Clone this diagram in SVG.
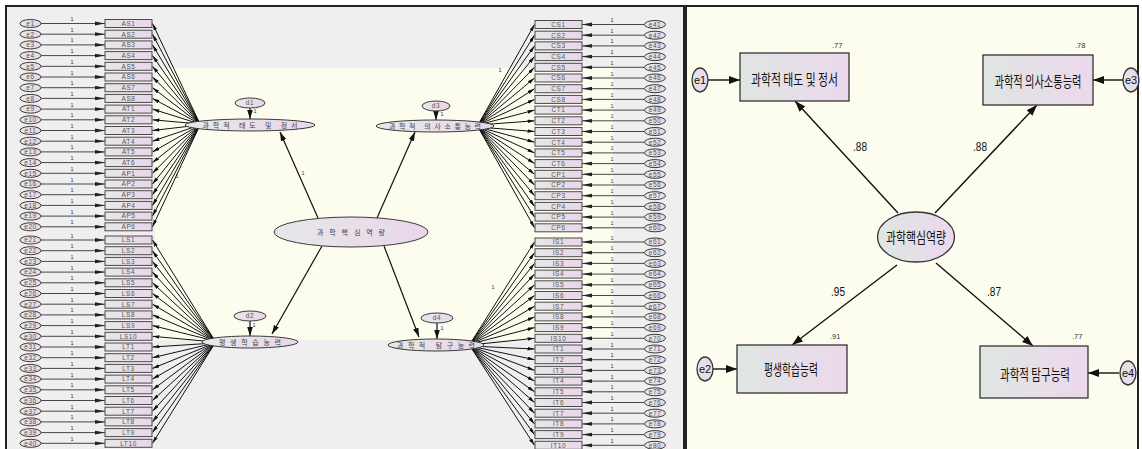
<svg xmlns="http://www.w3.org/2000/svg" xmlns:xlink="http://www.w3.org/1999/xlink" width="1142" height="449" viewBox="0 0 1142 449">
<style>
.b{stroke:#4a4a4a;stroke-width:1;fill:url(#gL)}
.e{stroke:#3a3a3a;stroke-width:1;fill:url(#gL)}
.t{font-family:"Liberation Sans",sans-serif;font-size:6.5px;fill:#555;text-anchor:middle;letter-spacing:0.6px}
.k{font-family:"Noto Sans CJK KR",sans-serif;font-size:7px;fill:#444;text-anchor:middle}
.one{font-family:"Liberation Sans",sans-serif;font-size:5.5px;fill:#333;text-anchor:middle}
.c1{stroke:#333;stroke-width:0.9;fill:none;marker-end:url(#m1)}
.c2{stroke:#111;stroke-width:1;fill:none;marker-end:url(#m2)}
.s{stroke:#111;stroke-width:1.2;fill:none;marker-end:url(#m3)}
.r{stroke:#111;stroke-width:1.4;fill:none;marker-end:url(#m4)}
.rb{stroke:#333;stroke-width:1.3;fill:url(#gR)}
.rk{font-family:"Noto Sans CJK KR",sans-serif;font-size:15px;fill:#111;text-anchor:middle}
.n{font-family:"Liberation Sans",sans-serif;font-size:12px;fill:#111}
.sn{font-family:"Liberation Sans",sans-serif;font-size:7.5px;fill:#333}
.re{font-family:"Liberation Sans",sans-serif;font-size:11px;fill:#111;text-anchor:middle}
</style>
<defs>
<linearGradient id="gL" x1="0" y1="0" x2="1" y2="0"><stop offset="0" stop-color="#e6e8e8"/><stop offset="1" stop-color="#ead6ea"/></linearGradient>
<linearGradient id="gR" x1="0" y1="0" x2="1" y2="0"><stop offset="0" stop-color="#dfe6e3"/><stop offset="1" stop-color="#ecd8ec"/></linearGradient>
<marker id="m1" markerUnits="userSpaceOnUse" markerWidth="11" markerHeight="5" refX="10" refY="2.2" orient="auto"><path d="M0,0.3L10,2.2L0,4.1z" fill="#222"/></marker>
<marker id="m2" markerUnits="userSpaceOnUse" markerWidth="8" markerHeight="4" refX="7" refY="1.8" orient="auto"><path d="M0,0L7,1.8L0,3.6z" fill="#111"/></marker>
<marker id="m3" markerUnits="userSpaceOnUse" markerWidth="10" markerHeight="6" refX="9" refY="2.8" orient="auto"><path d="M0,0L9,2.8L0,5.6z" fill="#111"/></marker>
<marker id="m4" markerUnits="userSpaceOnUse" markerWidth="12" markerHeight="9" refX="11" refY="4" orient="auto"><path d="M0,0L11,4L0,8z" fill="#111"/></marker>
<rect id="bx" class="b" x="-23.5" y="-4" width="47" height="8"/>
<ellipse id="el" class="e" rx="10.5" ry="4"/>
</defs>

<g id="panels">
<rect x="6" y="6" width="678" height="446" fill="#efefef" stroke="#222" stroke-width="2"/>
<rect x="155" y="68" width="458" height="272" fill="#fdfdef"/>
<rect x="686" y="6" width="452" height="446" fill="#fdfdef" stroke="#222" stroke-width="2"/>
</g>

<g id="connectors">
<path class="c1" d="M41,23.5H105"/><path class="c1" d="M41,34.2H105"/><path class="c1" d="M41,44.9H105"/><path class="c1" d="M41,55.6H105"/><path class="c1" d="M41,66.3H105"/>
<path class="c1" d="M41,77H105"/><path class="c1" d="M41,87.7H105"/><path class="c1" d="M41,98.4H105"/><path class="c1" d="M41,109.1H105"/><path class="c1" d="M41,119.8H105"/>
<path class="c1" d="M41,130.5H105"/><path class="c1" d="M41,141.2H105"/><path class="c1" d="M41,151.9H105"/><path class="c1" d="M41,162.6H105"/><path class="c1" d="M41,173.3H105"/>
<path class="c1" d="M41,184H105"/><path class="c1" d="M41,194.7H105"/><path class="c1" d="M41,205.4H105"/><path class="c1" d="M41,216.1H105"/><path class="c1" d="M41,226.8H105"/>
<path class="c1" d="M41,240H105"/><path class="c1" d="M41,250.7H105"/><path class="c1" d="M41,261.4H105"/><path class="c1" d="M41,272.1H105"/><path class="c1" d="M41,282.8H105"/>
<path class="c1" d="M41,293.5H105"/><path class="c1" d="M41,304.2H105"/><path class="c1" d="M41,314.9H105"/><path class="c1" d="M41,325.6H105"/><path class="c1" d="M41,336.3H105"/>
<path class="c1" d="M41,347H105"/><path class="c1" d="M41,357.7H105"/><path class="c1" d="M41,368.4H105"/><path class="c1" d="M41,379.1H105"/><path class="c1" d="M41,389.8H105"/>
<path class="c1" d="M41,400.5H105"/><path class="c1" d="M41,411.2H105"/><path class="c1" d="M41,421.9H105"/><path class="c1" d="M41,432.6H105"/><path class="c1" d="M41,443.3H105"/>
<path class="c1" d="M644,24.5H582"/><path class="c1" d="M644,35.2H582"/><path class="c1" d="M644,45.9H582"/><path class="c1" d="M644,56.6H582"/><path class="c1" d="M644,67.3H582"/>
<path class="c1" d="M644,78H582"/><path class="c1" d="M644,88.7H582"/><path class="c1" d="M644,99.4H582"/><path class="c1" d="M644,110.1H582"/><path class="c1" d="M644,120.8H582"/>
<path class="c1" d="M644,131.5H582"/><path class="c1" d="M644,142.2H582"/><path class="c1" d="M644,152.9H582"/><path class="c1" d="M644,163.6H582"/><path class="c1" d="M644,174.3H582"/>
<path class="c1" d="M644,185H582"/><path class="c1" d="M644,195.7H582"/><path class="c1" d="M644,206.4H582"/><path class="c1" d="M644,217.1H582"/><path class="c1" d="M644,227.8H582"/>
<path class="c1" d="M644,242H582"/><path class="c1" d="M644,252.7H582"/><path class="c1" d="M644,263.4H582"/><path class="c1" d="M644,274.1H582"/><path class="c1" d="M644,284.8H582"/>
<path class="c1" d="M644,295.5H582"/><path class="c1" d="M644,306.2H582"/><path class="c1" d="M644,316.9H582"/><path class="c1" d="M644,327.6H582"/><path class="c1" d="M644,338.3H582"/>
<path class="c1" d="M644,349H582"/><path class="c1" d="M644,359.7H582"/><path class="c1" d="M644,370.4H582"/><path class="c1" d="M644,381.1H582"/><path class="c1" d="M644,391.8H582"/>
<path class="c1" d="M644,402.5H582"/><path class="c1" d="M644,413.2H582"/><path class="c1" d="M644,423.9H582"/><path class="c1" d="M644,434.6H582"/><path class="c1" d="M644,445.3H582"/>
<g class="one">
<text x="72" y="21">1</text><text x="72" y="31.7">1</text><text x="72" y="42.4">1</text><text x="72" y="53.1">1</text><text x="72" y="63.8">1</text>
<text x="72" y="74.5">1</text><text x="72" y="85.2">1</text><text x="72" y="95.9">1</text><text x="72" y="106.6">1</text><text x="72" y="117.3">1</text>
<text x="72" y="128">1</text><text x="72" y="138.7">1</text><text x="72" y="149.4">1</text><text x="72" y="160.1">1</text><text x="72" y="170.8">1</text>
<text x="72" y="181.5">1</text><text x="72" y="192.2">1</text><text x="72" y="202.9">1</text><text x="72" y="213.6">1</text><text x="72" y="224.3">1</text>
<text x="72" y="237.5">1</text><text x="72" y="248.2">1</text><text x="72" y="258.9">1</text><text x="72" y="269.6">1</text><text x="72" y="280.3">1</text>
<text x="72" y="291">1</text><text x="72" y="301.7">1</text><text x="72" y="312.4">1</text><text x="72" y="323.1">1</text><text x="72" y="333.8">1</text>
<text x="72" y="344.5">1</text><text x="72" y="355.2">1</text><text x="72" y="365.9">1</text><text x="72" y="376.6">1</text><text x="72" y="387.3">1</text>
<text x="72" y="398">1</text><text x="72" y="408.7">1</text><text x="72" y="419.4">1</text><text x="72" y="430.1">1</text><text x="72" y="440.8">1</text>
<text x="612" y="22">1</text><text x="612" y="32.7">1</text><text x="612" y="43.4">1</text><text x="612" y="54.1">1</text><text x="612" y="64.8">1</text>
<text x="612" y="75.5">1</text><text x="612" y="86.2">1</text><text x="612" y="96.9">1</text><text x="612" y="107.6">1</text><text x="612" y="118.3">1</text>
<text x="612" y="129">1</text><text x="612" y="139.7">1</text><text x="612" y="150.4">1</text><text x="612" y="161.1">1</text><text x="612" y="171.8">1</text>
<text x="612" y="182.5">1</text><text x="612" y="193.2">1</text><text x="612" y="203.9">1</text><text x="612" y="214.6">1</text><text x="612" y="225.3">1</text>
<text x="612" y="239.5">1</text><text x="612" y="250.2">1</text><text x="612" y="260.9">1</text><text x="612" y="271.6">1</text><text x="612" y="282.3">1</text>
<text x="612" y="293">1</text><text x="612" y="303.7">1</text><text x="612" y="314.4">1</text><text x="612" y="325.1">1</text><text x="612" y="335.8">1</text>
<text x="612" y="346.5">1</text><text x="612" y="357.2">1</text><text x="612" y="367.9">1</text><text x="612" y="378.6">1</text><text x="612" y="389.3">1</text>
<text x="612" y="400">1</text><text x="612" y="410.7">1</text><text x="612" y="421.4">1</text><text x="612" y="432.1">1</text><text x="612" y="442.8">1</text>
<text x="177" y="178">1</text><text x="500" y="72">1</text><text x="493" y="289">1</text>
<text x="303" y="175">1</text><text x="255" y="113">1</text><text x="442" y="116">1</text><text x="254" y="327">1</text><text x="442" y="330">1</text>
</g>
<path class="c2" d="M200,124L152.5,23.5"/><path class="c2" d="M200,124L152.5,34.2"/><path class="c2" d="M200,124L152.5,44.9"/><path class="c2" d="M200,124L152.5,55.6"/><path class="c2" d="M200,124L152.5,66.3"/>
<path class="c2" d="M200,124L152.5,77"/><path class="c2" d="M200,124L152.5,87.7"/><path class="c2" d="M200,124L152.5,98.4"/><path class="c2" d="M200,124L152.5,109.1"/><path class="c2" d="M200,124L152.5,119.8"/>
<path class="c2" d="M200,125L152.5,130.5"/><path class="c2" d="M200,125L152.5,141.2"/><path class="c2" d="M200,125L152.5,151.9"/><path class="c2" d="M200,125L152.5,162.6"/><path class="c2" d="M200,125L152.5,173.3"/>
<path class="c2" d="M200,125L152.5,184"/><path class="c2" d="M200,125L152.5,194.7"/><path class="c2" d="M200,125L152.5,205.4"/><path class="c2" d="M200,125L152.5,216.1"/><path class="c2" d="M200,125L152.5,226.8"/>
<path class="c2" d="M215,341L152.5,240"/><path class="c2" d="M215,341L152.5,250.7"/><path class="c2" d="M215,341L152.5,261.4"/><path class="c2" d="M215,341L152.5,272.1"/><path class="c2" d="M215,341L152.5,282.8"/>
<path class="c2" d="M215,341L152.5,293.5"/><path class="c2" d="M215,341L152.5,304.2"/><path class="c2" d="M215,341L152.5,314.9"/><path class="c2" d="M215,341L152.5,325.6"/><path class="c2" d="M215,342L152.5,336.3"/>
<path class="c2" d="M215,343L152.5,347"/><path class="c2" d="M215,343L152.5,357.7"/><path class="c2" d="M215,343L152.5,368.4"/><path class="c2" d="M215,343L152.5,379.1"/><path class="c2" d="M215,343L152.5,389.8"/>
<path class="c2" d="M215,343L152.5,400.5"/><path class="c2" d="M215,343L152.5,411.2"/><path class="c2" d="M215,343L152.5,421.9"/><path class="c2" d="M215,343L152.5,432.6"/><path class="c2" d="M215,343L152.5,443.3"/>
<path class="c2" d="M478,125L534.5,24.5"/><path class="c2" d="M478,125L534.5,35.2"/><path class="c2" d="M478,125L534.5,45.9"/><path class="c2" d="M478,125L534.5,56.6"/><path class="c2" d="M478,125L534.5,67.3"/>
<path class="c2" d="M478,125L534.5,78"/><path class="c2" d="M478,125L534.5,88.7"/><path class="c2" d="M478,125L534.5,99.4"/><path class="c2" d="M478,125L534.5,110.1"/><path class="c2" d="M478,125L534.5,120.8"/>
<path class="c2" d="M478,127L534.5,131.5"/><path class="c2" d="M478,127L534.5,142.2"/><path class="c2" d="M478,127L534.5,152.9"/><path class="c2" d="M478,127L534.5,163.6"/><path class="c2" d="M478,127L534.5,174.3"/>
<path class="c2" d="M478,127L534.5,185"/><path class="c2" d="M478,127L534.5,195.7"/><path class="c2" d="M478,127L534.5,206.4"/><path class="c2" d="M478,127L534.5,217.1"/><path class="c2" d="M478,127L534.5,227.8"/>
<path class="c2" d="M470,344L534.5,242"/><path class="c2" d="M470,344L534.5,252.7"/><path class="c2" d="M470,344L534.5,263.4"/><path class="c2" d="M470,344L534.5,274.1"/><path class="c2" d="M470,344L534.5,284.8"/>
<path class="c2" d="M470,344L534.5,295.5"/><path class="c2" d="M470,344L534.5,306.2"/><path class="c2" d="M470,344L534.5,316.9"/><path class="c2" d="M470,344L534.5,327.6"/><path class="c2" d="M470,345L534.5,338.3"/>
<path class="c2" d="M470,346L534.5,349"/><path class="c2" d="M470,346L534.5,359.7"/><path class="c2" d="M470,346L534.5,370.4"/><path class="c2" d="M470,346L534.5,381.1"/><path class="c2" d="M470,346L534.5,391.8"/>
<path class="c2" d="M470,346L534.5,402.5"/><path class="c2" d="M470,346L534.5,413.2"/><path class="c2" d="M470,346L534.5,423.9"/><path class="c2" d="M470,346L534.5,434.6"/><path class="c2" d="M470,346L534.5,445.3"/>
<path class="s" d="M318,218L280,132"/>
<path class="s" d="M377,218L415,132"/>
<path class="s" d="M322,246L272,334"/>
<path class="s" d="M384,246L419,337"/>
<path class="s" d="M250,108V119"/>
<path class="s" d="M250,321V336"/>
<path class="s" d="M436,111V120"/>
<path class="s" d="M437,323V339"/>
<path class="r" d="M898,213L795,101"/>
<path class="r" d="M935,213L1037,105"/>
<path class="r" d="M897,265L792,345"/>
<path class="r" d="M936,263L1033,346"/>
<path class="r" d="M708,80H740"/>
<path class="r" d="M1123,80H1093"/>
<path class="r" d="M713,369H737"/>
<path class="r" d="M1119,373H1088"/>
<text class="n" x="853" y="151" textLength="14" lengthAdjust="spacingAndGlyphs">.88</text>
<text class="n" x="973" y="151" textLength="14" lengthAdjust="spacingAndGlyphs">.88</text>
<text class="n" x="831" y="296" textLength="14" lengthAdjust="spacingAndGlyphs">.95</text>
<text class="n" x="987" y="296" textLength="14" lengthAdjust="spacingAndGlyphs">.87</text>
</g>

<g id="e1" transform="translate(30.5,23.5)"><use href="#el"/><text class="t" y="2.3">e1</text></g>
<g id="e2" transform="translate(30.5,34.2)"><use href="#el"/><text class="t" y="2.3">e2</text></g>
<g id="e3" transform="translate(30.5,44.9)"><use href="#el"/><text class="t" y="2.3">e3</text></g>
<g id="e4" transform="translate(30.5,55.6)"><use href="#el"/><text class="t" y="2.3">e4</text></g>
<g id="e5" transform="translate(30.5,66.3)"><use href="#el"/><text class="t" y="2.3">e5</text></g>
<g id="e6" transform="translate(30.5,77)"><use href="#el"/><text class="t" y="2.3">e6</text></g>
<g id="e7" transform="translate(30.5,87.7)"><use href="#el"/><text class="t" y="2.3">e7</text></g>
<g id="e8" transform="translate(30.5,98.4)"><use href="#el"/><text class="t" y="2.3">e8</text></g>
<g id="e9" transform="translate(30.5,109.1)"><use href="#el"/><text class="t" y="2.3">e9</text></g>
<g id="e10" transform="translate(30.5,119.8)"><use href="#el"/><text class="t" y="2.3">e10</text></g>
<g id="e11" transform="translate(30.5,130.5)"><use href="#el"/><text class="t" y="2.3">e11</text></g>
<g id="e12" transform="translate(30.5,141.2)"><use href="#el"/><text class="t" y="2.3">e12</text></g>
<g id="e13" transform="translate(30.5,151.9)"><use href="#el"/><text class="t" y="2.3">e13</text></g>
<g id="e14" transform="translate(30.5,162.6)"><use href="#el"/><text class="t" y="2.3">e14</text></g>
<g id="e15" transform="translate(30.5,173.3)"><use href="#el"/><text class="t" y="2.3">e15</text></g>
<g id="e16" transform="translate(30.5,184)"><use href="#el"/><text class="t" y="2.3">e16</text></g>
<g id="e17" transform="translate(30.5,194.7)"><use href="#el"/><text class="t" y="2.3">e17</text></g>
<g id="e18" transform="translate(30.5,205.4)"><use href="#el"/><text class="t" y="2.3">e18</text></g>
<g id="e19" transform="translate(30.5,216.1)"><use href="#el"/><text class="t" y="2.3">e19</text></g>
<g id="e20" transform="translate(30.5,226.8)"><use href="#el"/><text class="t" y="2.3">e20</text></g>
<g id="e21" transform="translate(30.5,240)"><use href="#el"/><text class="t" y="2.3">e21</text></g>
<g id="e22" transform="translate(30.5,250.7)"><use href="#el"/><text class="t" y="2.3">e22</text></g>
<g id="e23" transform="translate(30.5,261.4)"><use href="#el"/><text class="t" y="2.3">e23</text></g>
<g id="e24" transform="translate(30.5,272.1)"><use href="#el"/><text class="t" y="2.3">e24</text></g>
<g id="e25" transform="translate(30.5,282.8)"><use href="#el"/><text class="t" y="2.3">e25</text></g>
<g id="e26" transform="translate(30.5,293.5)"><use href="#el"/><text class="t" y="2.3">e26</text></g>
<g id="e27" transform="translate(30.5,304.2)"><use href="#el"/><text class="t" y="2.3">e27</text></g>
<g id="e28" transform="translate(30.5,314.9)"><use href="#el"/><text class="t" y="2.3">e28</text></g>
<g id="e29" transform="translate(30.5,325.6)"><use href="#el"/><text class="t" y="2.3">e29</text></g>
<g id="e30" transform="translate(30.5,336.3)"><use href="#el"/><text class="t" y="2.3">e30</text></g>
<g id="e31" transform="translate(30.5,347)"><use href="#el"/><text class="t" y="2.3">e31</text></g>
<g id="e32" transform="translate(30.5,357.7)"><use href="#el"/><text class="t" y="2.3">e32</text></g>
<g id="e33" transform="translate(30.5,368.4)"><use href="#el"/><text class="t" y="2.3">e33</text></g>
<g id="e34" transform="translate(30.5,379.1)"><use href="#el"/><text class="t" y="2.3">e34</text></g>
<g id="e35" transform="translate(30.5,389.8)"><use href="#el"/><text class="t" y="2.3">e35</text></g>
<g id="e36" transform="translate(30.5,400.5)"><use href="#el"/><text class="t" y="2.3">e36</text></g>
<g id="e37" transform="translate(30.5,411.2)"><use href="#el"/><text class="t" y="2.3">e37</text></g>
<g id="e38" transform="translate(30.5,421.9)"><use href="#el"/><text class="t" y="2.3">e38</text></g>
<g id="e39" transform="translate(30.5,432.6)"><use href="#el"/><text class="t" y="2.3">e39</text></g>
<g id="e40" transform="translate(30.5,443.3)"><use href="#el"/><text class="t" y="2.3">e40</text></g>

<g id="AS1" transform="translate(128.5,23.5)"><use href="#bx"/><text class="t" y="2.3">AS1</text></g>
<g id="AS2" transform="translate(128.5,34.2)"><use href="#bx"/><text class="t" y="2.3">AS2</text></g>
<g id="AS3" transform="translate(128.5,44.9)"><use href="#bx"/><text class="t" y="2.3">AS3</text></g>
<g id="AS4" transform="translate(128.5,55.6)"><use href="#bx"/><text class="t" y="2.3">AS4</text></g>
<g id="AS5" transform="translate(128.5,66.3)"><use href="#bx"/><text class="t" y="2.3">AS5</text></g>
<g id="AS6" transform="translate(128.5,77)"><use href="#bx"/><text class="t" y="2.3">AS6</text></g>
<g id="AS7" transform="translate(128.5,87.7)"><use href="#bx"/><text class="t" y="2.3">AS7</text></g>
<g id="AS8" transform="translate(128.5,98.4)"><use href="#bx"/><text class="t" y="2.3">AS8</text></g>
<g id="AT1" transform="translate(128.5,109.1)"><use href="#bx"/><text class="t" y="2.3">AT1</text></g>
<g id="AT2" transform="translate(128.5,119.8)"><use href="#bx"/><text class="t" y="2.3">AT2</text></g>
<g id="AT3" transform="translate(128.5,130.5)"><use href="#bx"/><text class="t" y="2.3">AT3</text></g>
<g id="AT4" transform="translate(128.5,141.2)"><use href="#bx"/><text class="t" y="2.3">AT4</text></g>
<g id="AT5" transform="translate(128.5,151.9)"><use href="#bx"/><text class="t" y="2.3">AT5</text></g>
<g id="AT6" transform="translate(128.5,162.6)"><use href="#bx"/><text class="t" y="2.3">AT6</text></g>
<g id="AP1" transform="translate(128.5,173.3)"><use href="#bx"/><text class="t" y="2.3">AP1</text></g>
<g id="AP2" transform="translate(128.5,184)"><use href="#bx"/><text class="t" y="2.3">AP2</text></g>
<g id="AP3" transform="translate(128.5,194.7)"><use href="#bx"/><text class="t" y="2.3">AP3</text></g>
<g id="AP4" transform="translate(128.5,205.4)"><use href="#bx"/><text class="t" y="2.3">AP4</text></g>
<g id="AP5" transform="translate(128.5,216.1)"><use href="#bx"/><text class="t" y="2.3">AP5</text></g>
<g id="AP6" transform="translate(128.5,226.8)"><use href="#bx"/><text class="t" y="2.3">AP6</text></g>
<g id="LS1" transform="translate(128.5,240)"><use href="#bx"/><text class="t" y="2.3">LS1</text></g>
<g id="LS2" transform="translate(128.5,250.7)"><use href="#bx"/><text class="t" y="2.3">LS2</text></g>
<g id="LS3" transform="translate(128.5,261.4)"><use href="#bx"/><text class="t" y="2.3">LS3</text></g>
<g id="LS4" transform="translate(128.5,272.1)"><use href="#bx"/><text class="t" y="2.3">LS4</text></g>
<g id="LS5" transform="translate(128.5,282.8)"><use href="#bx"/><text class="t" y="2.3">LS5</text></g>
<g id="LS6" transform="translate(128.5,293.5)"><use href="#bx"/><text class="t" y="2.3">LS6</text></g>
<g id="LS7" transform="translate(128.5,304.2)"><use href="#bx"/><text class="t" y="2.3">LS7</text></g>
<g id="LS8" transform="translate(128.5,314.9)"><use href="#bx"/><text class="t" y="2.3">LS8</text></g>
<g id="LS9" transform="translate(128.5,325.6)"><use href="#bx"/><text class="t" y="2.3">LS9</text></g>
<g id="LS10" transform="translate(128.5,336.3)"><use href="#bx"/><text class="t" y="2.3">LS10</text></g>
<g id="LT1" transform="translate(128.5,347)"><use href="#bx"/><text class="t" y="2.3">LT1</text></g>
<g id="LT2" transform="translate(128.5,357.7)"><use href="#bx"/><text class="t" y="2.3">LT2</text></g>
<g id="LT3" transform="translate(128.5,368.4)"><use href="#bx"/><text class="t" y="2.3">LT3</text></g>
<g id="LT4" transform="translate(128.5,379.1)"><use href="#bx"/><text class="t" y="2.3">LT4</text></g>
<g id="LT5" transform="translate(128.5,389.8)"><use href="#bx"/><text class="t" y="2.3">LT5</text></g>
<g id="LT6" transform="translate(128.5,400.5)"><use href="#bx"/><text class="t" y="2.3">LT6</text></g>
<g id="LT7" transform="translate(128.5,411.2)"><use href="#bx"/><text class="t" y="2.3">LT7</text></g>
<g id="LT8" transform="translate(128.5,421.9)"><use href="#bx"/><text class="t" y="2.3">LT8</text></g>
<g id="LT9" transform="translate(128.5,432.6)"><use href="#bx"/><text class="t" y="2.3">LT9</text></g>
<g id="LT10" transform="translate(128.5,443.3)"><use href="#bx"/><text class="t" y="2.3">LT10</text></g>

<g id="CS1" transform="translate(558.5,24.5)"><use href="#bx"/><text class="t" y="2.3">CS1</text></g>
<g id="CS2" transform="translate(558.5,35.2)"><use href="#bx"/><text class="t" y="2.3">CS2</text></g>
<g id="CS3" transform="translate(558.5,45.9)"><use href="#bx"/><text class="t" y="2.3">CS3</text></g>
<g id="CS4" transform="translate(558.5,56.6)"><use href="#bx"/><text class="t" y="2.3">CS4</text></g>
<g id="CS5" transform="translate(558.5,67.3)"><use href="#bx"/><text class="t" y="2.3">CS5</text></g>
<g id="CS6" transform="translate(558.5,78)"><use href="#bx"/><text class="t" y="2.3">CS6</text></g>
<g id="CS7" transform="translate(558.5,88.7)"><use href="#bx"/><text class="t" y="2.3">CS7</text></g>
<g id="CS8" transform="translate(558.5,99.4)"><use href="#bx"/><text class="t" y="2.3">CS8</text></g>
<g id="CT1" transform="translate(558.5,110.1)"><use href="#bx"/><text class="t" y="2.3">CT1</text></g>
<g id="CT2" transform="translate(558.5,120.8)"><use href="#bx"/><text class="t" y="2.3">CT2</text></g>
<g id="CT3" transform="translate(558.5,131.5)"><use href="#bx"/><text class="t" y="2.3">CT3</text></g>
<g id="CT4" transform="translate(558.5,142.2)"><use href="#bx"/><text class="t" y="2.3">CT4</text></g>
<g id="CT5" transform="translate(558.5,152.9)"><use href="#bx"/><text class="t" y="2.3">CT5</text></g>
<g id="CT6" transform="translate(558.5,163.6)"><use href="#bx"/><text class="t" y="2.3">CT6</text></g>
<g id="CP1" transform="translate(558.5,174.3)"><use href="#bx"/><text class="t" y="2.3">CP1</text></g>
<g id="CP2" transform="translate(558.5,185)"><use href="#bx"/><text class="t" y="2.3">CP2</text></g>
<g id="CP3" transform="translate(558.5,195.7)"><use href="#bx"/><text class="t" y="2.3">CP3</text></g>
<g id="CP4" transform="translate(558.5,206.4)"><use href="#bx"/><text class="t" y="2.3">CP4</text></g>
<g id="CP5" transform="translate(558.5,217.1)"><use href="#bx"/><text class="t" y="2.3">CP5</text></g>
<g id="CP6" transform="translate(558.5,227.8)"><use href="#bx"/><text class="t" y="2.3">CP6</text></g>
<g id="IS1" transform="translate(558.5,242)"><use href="#bx"/><text class="t" y="2.3">IS1</text></g>
<g id="IS2" transform="translate(558.5,252.7)"><use href="#bx"/><text class="t" y="2.3">IS2</text></g>
<g id="IS3" transform="translate(558.5,263.4)"><use href="#bx"/><text class="t" y="2.3">IS3</text></g>
<g id="IS4" transform="translate(558.5,274.1)"><use href="#bx"/><text class="t" y="2.3">IS4</text></g>
<g id="IS5" transform="translate(558.5,284.8)"><use href="#bx"/><text class="t" y="2.3">IS5</text></g>
<g id="IS6" transform="translate(558.5,295.5)"><use href="#bx"/><text class="t" y="2.3">IS6</text></g>
<g id="IS7" transform="translate(558.5,306.2)"><use href="#bx"/><text class="t" y="2.3">IS7</text></g>
<g id="IS8" transform="translate(558.5,316.9)"><use href="#bx"/><text class="t" y="2.3">IS8</text></g>
<g id="IS9" transform="translate(558.5,327.6)"><use href="#bx"/><text class="t" y="2.3">IS9</text></g>
<g id="IS10" transform="translate(558.5,338.3)"><use href="#bx"/><text class="t" y="2.3">IS10</text></g>
<g id="IT1" transform="translate(558.5,349)"><use href="#bx"/><text class="t" y="2.3">IT1</text></g>
<g id="IT2" transform="translate(558.5,359.7)"><use href="#bx"/><text class="t" y="2.3">IT2</text></g>
<g id="IT3" transform="translate(558.5,370.4)"><use href="#bx"/><text class="t" y="2.3">IT3</text></g>
<g id="IT4" transform="translate(558.5,381.1)"><use href="#bx"/><text class="t" y="2.3">IT4</text></g>
<g id="IT5" transform="translate(558.5,391.8)"><use href="#bx"/><text class="t" y="2.3">IT5</text></g>
<g id="IT6" transform="translate(558.5,402.5)"><use href="#bx"/><text class="t" y="2.3">IT6</text></g>
<g id="IT7" transform="translate(558.5,413.2)"><use href="#bx"/><text class="t" y="2.3">IT7</text></g>
<g id="IT8" transform="translate(558.5,423.9)"><use href="#bx"/><text class="t" y="2.3">IT8</text></g>
<g id="IT9" transform="translate(558.5,434.6)"><use href="#bx"/><text class="t" y="2.3">IT9</text></g>
<g id="IT10" transform="translate(558.5,445.3)"><use href="#bx"/><text class="t" y="2.3">IT10</text></g>

<g id="e41" transform="translate(655,24.5)"><use href="#el"/><text class="t" y="2.3">e41</text></g>
<g id="e42" transform="translate(655,35.2)"><use href="#el"/><text class="t" y="2.3">e42</text></g>
<g id="e43" transform="translate(655,45.9)"><use href="#el"/><text class="t" y="2.3">e43</text></g>
<g id="e44" transform="translate(655,56.6)"><use href="#el"/><text class="t" y="2.3">e44</text></g>
<g id="e45" transform="translate(655,67.3)"><use href="#el"/><text class="t" y="2.3">e45</text></g>
<g id="e46" transform="translate(655,78)"><use href="#el"/><text class="t" y="2.3">e46</text></g>
<g id="e47" transform="translate(655,88.7)"><use href="#el"/><text class="t" y="2.3">e47</text></g>
<g id="e48" transform="translate(655,99.4)"><use href="#el"/><text class="t" y="2.3">e48</text></g>
<g id="e49" transform="translate(655,110.1)"><use href="#el"/><text class="t" y="2.3">e49</text></g>
<g id="e50" transform="translate(655,120.8)"><use href="#el"/><text class="t" y="2.3">e50</text></g>
<g id="e51" transform="translate(655,131.5)"><use href="#el"/><text class="t" y="2.3">e51</text></g>
<g id="e52" transform="translate(655,142.2)"><use href="#el"/><text class="t" y="2.3">e52</text></g>
<g id="e53" transform="translate(655,152.9)"><use href="#el"/><text class="t" y="2.3">e53</text></g>
<g id="e54" transform="translate(655,163.6)"><use href="#el"/><text class="t" y="2.3">e54</text></g>
<g id="e55" transform="translate(655,174.3)"><use href="#el"/><text class="t" y="2.3">e55</text></g>
<g id="e56" transform="translate(655,185)"><use href="#el"/><text class="t" y="2.3">e56</text></g>
<g id="e57" transform="translate(655,195.7)"><use href="#el"/><text class="t" y="2.3">e57</text></g>
<g id="e58" transform="translate(655,206.4)"><use href="#el"/><text class="t" y="2.3">e58</text></g>
<g id="e59" transform="translate(655,217.1)"><use href="#el"/><text class="t" y="2.3">e59</text></g>
<g id="e60" transform="translate(655,227.8)"><use href="#el"/><text class="t" y="2.3">e60</text></g>
<g id="e61" transform="translate(655,242)"><use href="#el"/><text class="t" y="2.3">e61</text></g>
<g id="e62" transform="translate(655,252.7)"><use href="#el"/><text class="t" y="2.3">e62</text></g>
<g id="e63" transform="translate(655,263.4)"><use href="#el"/><text class="t" y="2.3">e63</text></g>
<g id="e64" transform="translate(655,274.1)"><use href="#el"/><text class="t" y="2.3">e64</text></g>
<g id="e65" transform="translate(655,284.8)"><use href="#el"/><text class="t" y="2.3">e65</text></g>
<g id="e66" transform="translate(655,295.5)"><use href="#el"/><text class="t" y="2.3">e66</text></g>
<g id="e67" transform="translate(655,306.2)"><use href="#el"/><text class="t" y="2.3">e67</text></g>
<g id="e68" transform="translate(655,316.9)"><use href="#el"/><text class="t" y="2.3">e68</text></g>
<g id="e69" transform="translate(655,327.6)"><use href="#el"/><text class="t" y="2.3">e69</text></g>
<g id="e70" transform="translate(655,338.3)"><use href="#el"/><text class="t" y="2.3">e70</text></g>
<g id="e71" transform="translate(655,349)"><use href="#el"/><text class="t" y="2.3">e71</text></g>
<g id="e72" transform="translate(655,359.7)"><use href="#el"/><text class="t" y="2.3">e72</text></g>
<g id="e73" transform="translate(655,370.4)"><use href="#el"/><text class="t" y="2.3">e73</text></g>
<g id="e74" transform="translate(655,381.1)"><use href="#el"/><text class="t" y="2.3">e74</text></g>
<g id="e75" transform="translate(655,391.8)"><use href="#el"/><text class="t" y="2.3">e75</text></g>
<g id="e76" transform="translate(655,402.5)"><use href="#el"/><text class="t" y="2.3">e76</text></g>
<g id="e77" transform="translate(655,413.2)"><use href="#el"/><text class="t" y="2.3">e77</text></g>
<g id="e78" transform="translate(655,423.9)"><use href="#el"/><text class="t" y="2.3">e78</text></g>
<g id="e79" transform="translate(655,434.6)"><use href="#el"/><text class="t" y="2.3">e79</text></g>
<g id="e80" transform="translate(655,445.3)"><use href="#el"/><text class="t" y="2.3">e80</text></g>

<g id="L_attitude"><ellipse class="e" cx="250" cy="125" rx="65" ry="6"/><text class="k" x="250" y="127.5" textLength="95" lengthAdjust="spacing">과학적 태도 및 정서</text></g>
<g id="L_comm"><ellipse class="e" cx="435" cy="126" rx="59" ry="6"/><text class="k" x="435" y="128.5" textLength="92" lengthAdjust="spacing">과학적 의사소통능력</text></g>
<g id="L_core"><ellipse class="e" cx="351" cy="232" rx="77" ry="15"/><text class="k" x="351" y="234.5" textLength="68" lengthAdjust="spacing">과학핵심역량</text></g>
<g id="L_life"><ellipse class="e" cx="250" cy="342" rx="48" ry="6"/><text class="k" x="250" y="344.5" textLength="62" lengthAdjust="spacing">평생학습능력</text></g>
<g id="L_inq"><ellipse class="e" cx="436" cy="345" rx="48" ry="6"/><text class="k" x="436" y="347.5" textLength="78" lengthAdjust="spacing">과학적 탐구능력</text></g>
<g id="d1"><ellipse class="e" cx="250" cy="103" rx="15" ry="5"/><text class="t" x="250" y="105.3">d1</text></g>
<g id="d2"><ellipse class="e" cx="250" cy="316" rx="16" ry="5"/><text class="t" x="250" y="318.3">d2</text></g>
<g id="d3"><ellipse class="e" cx="436" cy="106" rx="14" ry="5"/><text class="t" x="436" y="108.3">d3</text></g>
<g id="d4"><ellipse class="e" cx="437" cy="318" rx="16" ry="5"/><text class="t" x="437" y="320.3">d4</text></g>

<g id="R_attitude"><rect class="rb" x="740" y="53" width="109" height="48"/><text class="rk" x="794.5" y="85" textLength="87" lengthAdjust="spacingAndGlyphs">과학적 태도 및 정서</text><text class="sn" x="832" y="48">.77</text></g>
<g id="R_comm"><rect class="rb" x="983" y="55" width="110" height="50"/><text class="rk" x="1038" y="87" textLength="87" lengthAdjust="spacingAndGlyphs">과학적 의사소통능력</text><text class="sn" x="1075" y="48">.78</text></g>
<g id="R_life"><rect class="rb" x="737" y="345" width="110" height="48"/><text class="rk" x="791" y="375" textLength="54" lengthAdjust="spacingAndGlyphs">평생학습능력</text><text class="sn" x="830" y="339">.91</text></g>
<g id="R_inq"><rect class="rb" x="980" y="346" width="108" height="52"/><text class="rk" x="1035" y="380" textLength="70" lengthAdjust="spacingAndGlyphs">과학적 탐구능력</text><text class="sn" x="1072" y="339">.77</text></g>
<g id="R_core"><ellipse class="rb" cx="916" cy="237" rx="38.5" ry="25"/><text class="rk" x="916" y="243" textLength="60" lengthAdjust="spacingAndGlyphs">과학핵심역량</text></g>
<g id="R_e1"><ellipse class="rb" cx="700" cy="80" rx="8" ry="12"/><text class="re" x="700" y="84">e1</text></g>
<g id="R_e3"><ellipse class="rb" cx="1131" cy="80" rx="8" ry="12"/><text class="re" x="1131" y="84">e3</text></g>
<g id="R_e2"><ellipse class="rb" cx="705" cy="369" rx="8" ry="12"/><text class="re" x="705" y="373">e2</text></g>
<g id="R_e4"><ellipse class="rb" cx="1128" cy="373" rx="8" ry="12"/><text class="re" x="1128" y="377">e4</text></g>
</svg>
